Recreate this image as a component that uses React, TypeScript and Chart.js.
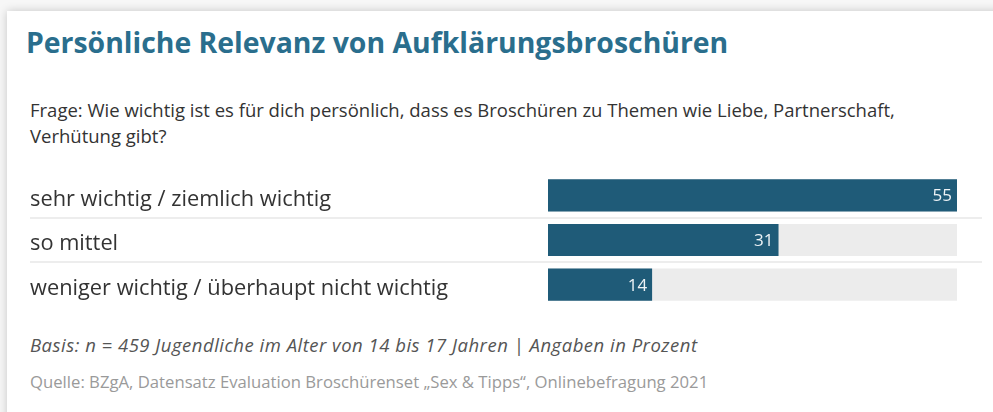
import React, { useEffect, useRef } from "react";
import { Chart, registerables } from "chart.js";

Chart.register(...registerables);

const titleText = "Persönliche Relevanz von Aufklärungsbroschüren";
const questionLines = [
  "Frage: Wie wichtig ist es für dich persönlich, dass es Broschüren zu Themen wie Liebe, Partnerschaft,",
  "Verhütung gibt?",
];
const categories = [
  "sehr wichtig / ziemlich wichtig",
  "so mittel",
  "weniger wichtig / überhaupt nicht wichtig",
];
const values = [55, 31, 14];
const trackValues = [55, 55, 55];
const xMax = 55;
const basisText = "Basis: n = 459 Jugendliche im Alter von 14 bis 17 Jahren | Angaben in Prozent";
const sourceText = "Quelle: BZgA, Datensatz Evaluation Broschürenset „Sex & Tipps“, Onlinebefragung 2021";

const FONT = "'Open Sans', Lato, sans-serif";

const separatorPlugin = {
  id: "separators",
  beforeDatasetsDraw(chart: any) {
    const y = chart.scales.y;
    const ctx = chart.ctx;
    ctx.save();
    ctx.strokeStyle = "#ededed";
    ctx.lineWidth = 2;
    for (let i = 0; i < categories.length - 1; i++) {
      const py = Math.round((y.getPixelForValue(i) + y.getPixelForValue(i + 1)) / 2);
      ctx.beginPath();
      ctx.moveTo(y.left, py);
      ctx.lineTo(chart.chartArea.right + 25, py);
      ctx.stroke();
    }
    ctx.restore();
  },
};

const valueLabelPlugin = {
  id: "valueLabels",
  afterDatasetsDraw(chart: any) {
    const ctx = chart.ctx;
    const meta = chart.getDatasetMeta(0);
    ctx.save();
    ctx.font = `17px ${FONT}`;
    ctx.fillStyle = "#eef3f6";
    ctx.textAlign = "right";
    ctx.textBaseline = "middle";
    meta.data.forEach((bar: any, i: number) => {
      ctx.fillText(String(values[i]), bar.x - 5, bar.y + 1);
    });
    ctx.restore();
  },
};

export default function App() {
  const canvasRef = useRef<HTMLCanvasElement | null>(null);

  useEffect(() => {
    if (!canvasRef.current) return;
    const chart = new Chart(canvasRef.current, {
      type: "bar",
      data: {
        labels: categories,
        datasets: [
          {
            data: values,
            backgroundColor: "#1f5b78",
            grouped: false,
            order: 0,
            barPercentage: 0.72,
            categoryPercentage: 1,
          },
          {
            data: trackValues,
            backgroundColor: "#ececec",
            grouped: false,
            order: 1,
            barPercentage: 0.72,
            categoryPercentage: 1,
          },
        ],
      },
      options: {
        indexAxis: "y",
        responsive: false,
        animation: false,
        devicePixelRatio: 1,
        layout: { padding: { left: 0, right: 33, top: 0, bottom: 0 } },
        plugins: {
          legend: { display: false },
          tooltip: { enabled: false },
        },
        scales: {
          x: { min: 0, max: xMax, display: false },
          y: {
            grid: { display: false },
            border: { display: false },
            ticks: {
              color: "#333333",
              font: { family: FONT, size: 21.8 },
              crossAlign: "far",
              padding: 0,
              labelOffset: 4,
            },
            afterFit: (scale: any) => {
              scale.width = 518;
              scale.paddingTop = 0;
              scale.paddingBottom = 0;
            },
          },
        },
      },
      plugins: [separatorPlugin, valueLabelPlugin],
    } as any);
    return () => chart.destroy();
  }, []);

  const abs = (s: React.CSSProperties): React.CSSProperties => ({
    position: "absolute",
    whiteSpace: "nowrap",
    fontFamily: FONT,
    margin: 0,
    ...s,
  });

  return (
    <div
      style={{
        position: "fixed",
        left: 0,
        top: 0,
        width: 993,
        height: 412,
        overflow: "hidden",
        background: "#f7f7f7",
      }}
    >
      <div
        style={{
          position: "absolute",
          left: 7,
          top: 11,
          width: 1020,
          height: 430,
          background: "#ffffff",
          boxShadow: "0 0 9px rgba(0,0,0,0.2)",
        }}
      />
      <div
        style={abs({
          left: 26,
          top: 28,
          fontSize: 28.4,
          lineHeight: "28px",
          fontWeight: 700,
          color: "#2a6e8d",
        })}
      >
        {titleText}
      </div>
      <div
        style={abs({
          left: 30,
          top: 97,
          fontSize: 18.5,
          lineHeight: "26px",
          color: "#333333",
        })}
      >
        {questionLines.map((l, i) => (
          <div key={i}>{l}</div>
        ))}
      </div>
      <canvas
        ref={canvasRef}
        width={960}
        height={134}
        style={{ position: "absolute", left: 30, top: 173, width: 960, height: 134 }}
      />
      <div
        style={abs({
          left: 30,
          top: 336,
          fontSize: 18.5,
          lineHeight: "18px",
          letterSpacing: "0.5px",
          fontStyle: "italic",
          color: "#555555",
        })}
      >
        {basisText}
      </div>
      <div
        style={abs({
          left: 30,
          top: 374,
          fontSize: 16.7,
          lineHeight: "16px",
          color: "#9a9a9a",
        })}
      >
        {sourceText}
      </div>
    </div>
  );
}
